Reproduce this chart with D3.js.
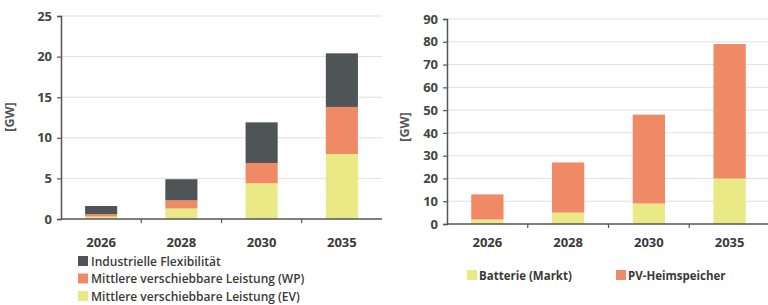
<!DOCTYPE html>
<html>
<head>
<meta charset="utf-8">
<script src="https://cdn.jsdelivr.net/npm/d3@7"></script>
<style>
  body { margin: 0; background: #fff; }
  svg text { font-family: "Open Sans", "DejaVu Sans", sans-serif; fill: #3a3a3a; }
</style>
</head>
<body>
<svg id="chart" width="768" height="305"></svg>
<script>
// DATA

var years = ["2026", "2028", "2030", "2035"];

// left chart (GW)
var ev = [0.3, 1.3, 4.4, 8.0];
var wp = [0.3, 1.0, 2.5, 5.8];
var industrie = [1.0, 2.6, 5.0, 6.6];
var leftTicks = [0, 5, 10, 15, 20, 25];

// right chart (GW)
var batterie = [2, 5, 9, 20];
var pvHeim = [11, 22, 39, 59];
var rightTicks = [0, 10, 20, 30, 40, 50, 60, 70, 80, 90];

var leftNames = ["Mittlere verschiebbare Leistung (EV)", "Mittlere verschiebbare Leistung (WP)", "Industrielle Flexibilität"];
var rightNames = ["Batterie (Markt)", "PV-Heimspeicher"];

var cYellow = "#e9ea85", cOrange = "#f08a66", cDark = "#4f5557";

// D3 CODE

var svg = d3.select("#chart");

function drawPanel(opt) {
    var x = d3.scaleBand()
        .domain(years)
        .range([opt.x0, opt.x1])
        .paddingInner(0.6)
        .paddingOuter(0.3);

    var y = d3.scaleLinear()
        .domain([0, opt.max])
        .range([opt.y0, opt.y1]);

    var g = svg.append("g");

    // gridlines
    g.selectAll("line.grid")
        .data(opt.ticks.slice(1))
        .enter().append("line")
        .attr("x1", opt.x0).attr("x2", opt.x1)
        .attr("y1", d => y(d)).attr("y2", d => y(d))
        .style("stroke", "#e3dfdb")
        .style("stroke-width", 1);

    // stacked bars
    var rows = years.map(function (yr, i) {
        var r = { year: yr };
        opt.series.forEach(function (s) { r[s.key] = s.values[i]; });
        return r;
    });
    var stack = d3.stack().keys(opt.series.map(s => s.key))(rows);

    stack.forEach(function (layer, li) {
        g.selectAll(null)
            .data(layer)
            .enter().append("rect")
            .attr("x", d => x(d.data.year))
            .attr("width", x.bandwidth())
            .attr("y", d => y(d[1]))
            .attr("height", d => y(d[0]) - y(d[1]))
            .style("fill", opt.series[li].color);
    });

    // y axis
    var ya = g.append("g")
        .attr("transform", "translate(" + opt.x0 + ",0)")
        .call(d3.axisLeft(y).tickValues(opt.ticks).tickSize(4).tickPadding(5));
    ya.select(".domain").style("stroke", "#555").style("stroke-width", 1.5);
    ya.selectAll(".tick line").style("stroke", "#555").style("stroke-width", 1.2);
    ya.selectAll("text")
        .style("font-family", "'Open Sans', sans-serif")
        .style("font-size", "13px")
        .style("font-weight", "bold")
        .style("fill", "#444");

    // x axis baseline + separators
    g.append("line")
        .attr("x1", opt.x0).attr("x2", opt.x1)
        .attr("y1", opt.y0).attr("y2", opt.y0)
        .style("stroke", "#555").style("stroke-width", 1.5);

    g.selectAll("line.sep")
        .data(years.slice(1))
        .enter().append("line")
        .attr("x1", d => x(d) - x.step() * x.paddingInner() / 2)
        .attr("x2", d => x(d) - x.step() * x.paddingInner() / 2)
        .attr("y1", opt.y0).attr("y2", opt.y0 + 4)
        .style("stroke", "#555").style("stroke-width", 1.2);

    g.selectAll("text.year")
        .data(years)
        .enter().append("text")
        .attr("x", d => x(d) + x.bandwidth() / 2)
        .attr("y", 247)
        .attr("text-anchor", "middle")
        .style("font-size", "13px")
        .style("font-weight", "bold")
        .text(d => d);

    // axis title
    g.append("text")
        .attr("transform", "translate(" + opt.labelX + "," + opt.labelY + ") rotate(-90)")
        .attr("text-anchor", "middle")
        .style("font-size", "12.5px")
        .style("font-weight", "bold")
        .style("fill", "#555")
        .text("[GW]");

    return g;
}

drawPanel({
    x0: 61, x1: 382, y0: 219, y1: 16, max: 25,
    ticks: leftTicks, labelX: 14, labelY: 117,
    series: [
        { key: "ev", values: ev, color: cYellow },
        { key: "wp", values: wp, color: cOrange },
        { key: "ind", values: industrie, color: cDark }
    ]
});

drawPanel({
    x0: 447, x1: 770, y0: 224, y1: 19, max: 90,
    ticks: rightTicks, labelX: 409, labelY: 127,
    series: [
        { key: "bat", values: batterie, color: cYellow },
        { key: "pv", values: pvHeim, color: cOrange }
    ]
});

// legends
var leftLegend = [
    { name: leftNames[2], color: cDark },
    { name: leftNames[1], color: cOrange },
    { name: leftNames[0], color: cYellow }
];

var ll = svg.append("g").selectAll("g")
    .data(leftLegend)
    .enter().append("g")
    .attr("transform", (d, i) => "translate(78," + (261 + i * 17.5) + ")");
ll.append("rect")
    .attr("x", 0).attr("y", -5)
    .attr("width", 10).attr("height", 10)
    .style("fill", d => d.color);
ll.append("text")
    .attr("x", 13).attr("y", 4.5)
    .style("font-size", "12px")
    .style("font-weight", "600")
    .text(d => d.name);

var rightLegend = [
    { name: rightNames[0], color: cYellow, x: 467 },
    { name: rightNames[1], color: cOrange, x: 616 }
];

var rl = svg.append("g").selectAll("g")
    .data(rightLegend)
    .enter().append("g")
    .attr("transform", d => "translate(" + d.x + ",275)");
rl.append("rect")
    .attr("x", 0).attr("y", -5)
    .attr("width", 10).attr("height", 10)
    .style("fill", d => d.color);
rl.append("text")
    .attr("x", 12).attr("y", 4.5)
    .style("font-size", "11.5px")
    .style("font-weight", "bold")
    .text(d => d.name);
</script>
</body>
</html>
